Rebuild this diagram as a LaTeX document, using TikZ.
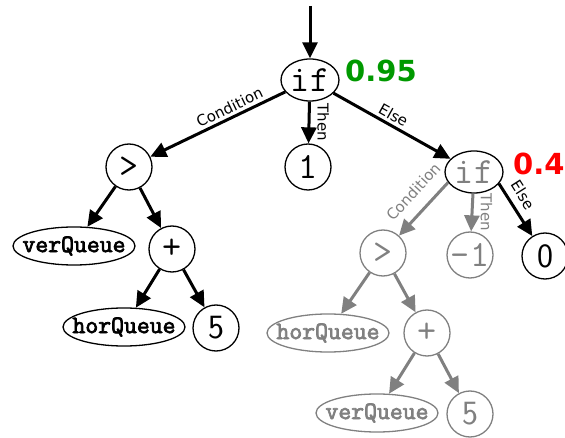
\documentclass[tikz,border=0pt]{standalone}
\usepackage{fontspec}
\setmainfont{DejaVu Sans}
\setmonofont{Latin Modern Mono}[AutoFakeBold=3]
\usetikzlibrary{arrows.meta,shapes.geometric,positioning}

\tikzset{
  op/.style={draw, circle, line width=1.3pt, minimum size=46pt, inner sep=0pt, font=\fontsize{37}{37}\ttfamily},
  num/.style={op, font=\fontsize{34}{34}\sffamily},
  cond/.style={draw, ellipse, line width=1.3pt, minimum width=58pt, minimum height=42pt, inner sep=0pt, font=\fontsize{37}{37}\ttfamily},
  var/.style={draw, ellipse, line width=1.3pt, minimum width=122pt, minimum height=38pt, inner xsep=-9.5pt, inner ysep=0pt, font=\fontsize{25}{25}\ttfamily\bfseries},
  branch/.style={line width=3pt, -{Triangle[length=16pt,width=15pt]}},
  lbl/.style={font=\fontsize{15}{15}\selectfont, inner sep=3pt},
  thenlbl/.style={lbl, rotate=-90, anchor=south, inner ysep=7pt},
  off/.style={gray, draw=gray},
  score/.style={font=\fontsize{29}{29}\selectfont\bfseries, inner sep=0pt, anchor=base west},
}

\begin{document}
\begin{tikzpicture}[x=1pt, y=-1pt]
  \useasboundingbox (0,0) rectangle (565,438);
  % aktiver Zweig
  \coordinate (start) at (310,6);
  \node[cond] (if1) at (310,80) {if};
  \node[score, green!60!black] (p1) at (345,82) {0.95};
  \node[op] (gt1) at (129,167) {>};
  \node[op] (one) at (308,167) {1};
  \node[cond, text=gray] (if2) at (474,172) {if};
  \node[score, red] (p2) at (513,175) {0.4};
  \node[var] (ver1) at (74,246) {verQueue};
  \node[op] (plus1) at (172,249) {+};
  \node[var] (hor1) at (124,327) {horQueue};
  \node[num] (five1) at (216,328) {5};
  \node[num] (zero) at (545,256) {0};
  % inaktiver Zweig (grau)
  \node[op, off] (gt2) at (383,253) {>};
  \node[op, off] (mone) at (470,255) {-1};
  \node[var, off] (hor2) at (328,333) {horQueue};
  \node[op, off] (plus2) at (427,333) {+};
  \node[var, off] (ver2) at (377,413) {verQueue};
  \node[num, off] (five2) at (470,414) {5};

  \draw[branch] (start) -- (if1);
  \draw[branch] (if1) -- node[lbl, sloped, above, pos=0.38] {Condition} (gt1);
  \draw[branch] (if1) -- node[thenlbl] {Then} (one);
  \draw[branch] (if1) -- node[lbl, sloped, above, pos=0.47] {Else} (if2);
  \draw[branch] (gt1) -- (ver1);
  \draw[branch] (gt1) -- (plus1);
  \draw[branch] (plus1) -- (hor1);
  \draw[branch] (plus1) -- (five1);
  \draw[branch, gray] (if2.202) -- node[lbl, sloped, above, pos=0.42, inner sep=12pt] {Condition} (gt2);
  \draw[branch, gray] (if2) -- node[thenlbl] {Then} (mone);
  \draw[branch] (if2.-25) -- node[lbl, sloped, above, pos=0.36, inner sep=7pt] {Else} (zero);
  \draw[branch, gray] (gt2) -- (hor2);
  \draw[branch, gray] (gt2) -- (plus2);
  \draw[branch, gray] (plus2) -- (ver2);
  \draw[branch, gray] (plus2) -- (five2);
\end{tikzpicture}
\end{document}
